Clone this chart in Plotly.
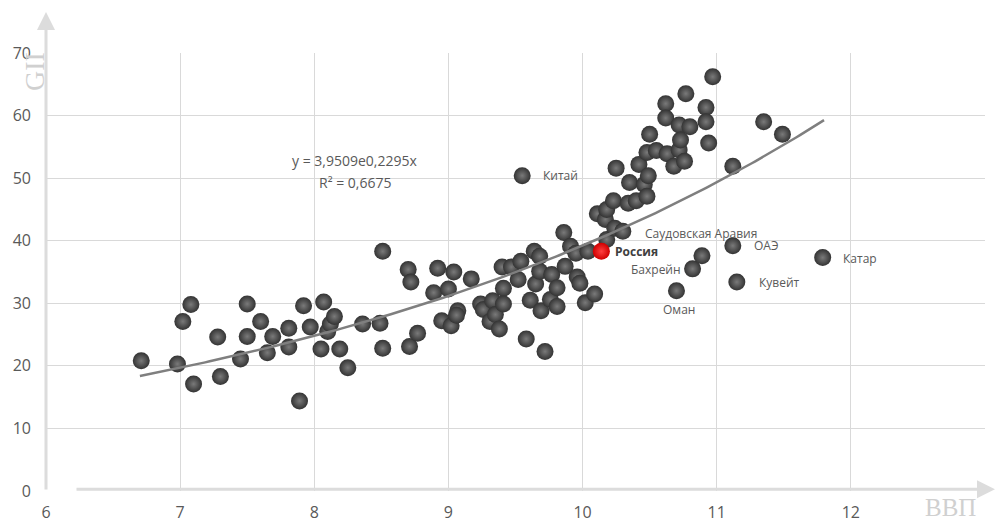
import numpy as np
import plotly.graph_objects as go

# --- Data (log GDP per capita vs GII) ---
gdp = [6.71, 6.98, 7.02, 7.08, 7.10, 7.28, 7.30, 7.45, 7.50, 7.50, 7.60, 7.65, 7.69, 7.81, 7.81,
       7.89, 7.92, 7.97, 8.05, 8.07, 8.10, 8.12, 8.15, 8.19, 8.25, 8.36, 8.49, 8.51, 8.51, 8.70,
       8.72, 8.71, 8.77, 8.89, 8.92, 8.95, 9.00, 9.02, 9.04, 9.07, 9.06, 9.17, 9.24, 9.26, 9.31,
       9.33, 9.35, 9.38, 9.40, 9.41, 9.41, 9.47, 9.52, 9.54, 9.55, 9.58, 9.61, 9.64, 9.65, 9.68,
       9.68, 9.69, 9.72, 9.76, 9.77, 9.81, 9.81, 9.86, 9.87, 9.91, 9.95, 9.96, 9.98, 10.02, 10.04,
       10.09, 10.11, 10.17, 10.18, 10.18, 10.24, 10.30, 10.23, 10.25, 10.34, 10.35, 10.40, 10.42,
       10.46, 10.48, 10.49, 10.48, 10.50, 10.55, 10.62, 10.62, 10.63, 10.68, 10.70, 10.72, 10.72,
       10.73, 10.76, 10.77, 10.80, 10.82, 10.89, 10.92, 10.92, 10.94, 10.97, 11.12, 11.12, 11.15,
       11.35, 11.49, 11.79]
gii = [20.8, 20.3, 27.1, 29.8, 17.1, 24.6, 18.3, 21.1, 24.7, 29.9, 27.1, 22.1, 24.7, 26.0, 23.0,
       14.4, 29.6, 26.2, 22.7, 30.2, 25.5, 26.7, 27.9, 22.7, 19.7, 26.7, 26.8, 22.8, 38.3, 35.4,
       33.4, 23.1, 25.2, 31.7, 35.6, 27.2, 32.3, 26.4, 35.0, 28.8, 28.1, 33.9, 29.9, 29.0, 27.1,
       30.4, 28.2, 25.9, 35.8, 32.4, 29.9, 35.8, 33.8, 36.7, 50.4, 24.3, 30.5, 38.3, 33.1, 37.5,
       35.1, 28.8, 22.3, 30.6, 34.6, 32.5, 29.5, 41.3, 35.9, 39.1, 38.0, 34.2, 33.2, 30.1, 38.3,
       31.5, 44.3, 43.4, 45.0, 40.2, 42.0, 41.5, 46.4, 51.6, 46.0, 49.3, 46.4, 52.2,
       49.0, 47.1, 50.4, 54.1, 57.0, 54.4, 61.9, 59.6, 53.9, 51.9, 32.0, 58.5, 54.5,
       56.1, 52.7, 63.5, 58.2, 35.5, 37.6, 61.3, 59.0, 55.6, 66.2, 51.9, 39.2, 33.4,
       59.0, 57.0, 37.3]

russia_gdp = [10.14]
russia_gii = [38.3]

label_names = ["Китай", "Саудовская Аравия", "ОАЭ", "Бахрейн", "Кувейт", "Оман", "Катар"]
label_x = [9.69, 10.45, 11.26, 10.75, 11.30, 10.72, 11.93]
label_y = [50.4, 41.1, 39.2, 35.4, 33.3, 29.0, 37.1]
label_anchor = ["left", "left", "left", "right", "left", "center", "left"]

trend_a = 3.9509
trend_b = 0.2295
trend_x_range = [6.7, 11.8]

x_ticks = [6, 7, 8, 9, 10, 11, 12, 13]
x_ticktext = ["6", "7", "8", "9", "10", "11", "12", ""]
y_ticks = [0, 10, 20, 30, 40, 50, 60, 70]

# --- Figure ---
fig = go.Figure()

fig.add_trace(go.Scatter(
    x=gdp, y=gii, mode="markers",
    marker=dict(size=17, color="#333333",
                gradient=dict(type="radial", color="#7a7a7a"),
                line=dict(width=0)),
    hoverinfo="skip", showlegend=False))

fig.add_trace(go.Scatter(
    x=russia_gdp, y=russia_gii, mode="markers",
    marker=dict(size=17, color="#d00000",
                gradient=dict(type="radial", color="#ff4040"),
                line=dict(width=0)),
    hoverinfo="skip", showlegend=False))

tx = np.linspace(trend_x_range[0], trend_x_range[1], 200)
ty = trend_a * np.exp(trend_b * tx)
fig.add_trace(go.Scatter(x=tx, y=ty, mode="lines",
                         line=dict(color="#7f7f7f", width=2.5),
                         hoverinfo="skip", showlegend=False))

font_main = "Open Sans, Noto Sans, sans-serif"

annotations = []
for name, lx, ly, anc in zip(label_names, label_x, label_y, label_anchor):
    annotations.append(dict(x=lx, y=ly, text=name, showarrow=False, xanchor=anc,
                            font=dict(family=font_main, size=12, color="#595959")))
annotations.append(dict(x=10.23, y=38.2, text="<b>Россия</b>", showarrow=False, xanchor="left",
                        font=dict(family=font_main, size=12, color="#404040")))
annotations.append(dict(x=8.30, y=52.8, text="y = 3,9509e0,2295x", showarrow=False,
                        font=dict(family=font_main, size=14, color="#595959")))
annotations.append(dict(x=8.30, y=49.3, text="R² = 0,6675", showarrow=False,
                        font=dict(family=font_main, size=14, color="#595959")))

# axis arrows
annotations.append(dict(xref="paper", yref="paper", x=0, y=(491 - 12) / 438, ax=0, ay=479,
                        axref="pixel", ayref="pixel", text="", showarrow=True,
                        arrowhead=2, arrowsize=1.2, arrowwidth=3, arrowcolor="#dcdcdc"))
annotations.append(dict(xref="paper", yref="paper", x=(995 - 46) / 939, y=0.004, ax=-920, ay=0,
                        axref="pixel", ayref="pixel", text="", showarrow=True,
                        arrowhead=2, arrowsize=1.2, arrowwidth=3, arrowcolor="#dcdcdc"))
# axis titles
annotations.append(dict(xref="paper", yref="paper", x=(34 - 46) / 939, y=(491 - 72) / 438,
                        xanchor="center", yanchor="middle",
                        text="GII", showarrow=False, textangle=-90,
                        font=dict(family="Liberation Serif, serif", size=28, color="#d0d0d0")))
annotations.append(dict(xref="paper", yref="paper", x=(950 - 46) / 939, y=(491 - 507) / 438,
                        xanchor="center", yanchor="middle", borderpad=0,
                        text="ВВП", showarrow=False, bgcolor="white",
                        font=dict(family="Liberation Serif, serif", size=25, color="#d0d0d0")))

fig.update_layout(
    width=997, height=523,
    margin=dict(l=46, r=12, t=53, b=32, autoexpand=False),
    paper_bgcolor="white", plot_bgcolor="white",
    annotations=annotations,
    showlegend=False,
)
fig.update_xaxes(range=[6, 13], tickvals=x_ticks, ticktext=x_ticktext, automargin=False,
                 showgrid=True, gridcolor="#d9d9d9", gridwidth=1,
                 zeroline=False, showline=False, ticks="",
                 ticklabelstandoff=10,
                 tickfont=dict(family=font_main, size=16, color="#595959"))
fig.update_yaxes(range=[0, 70], tickvals=y_ticks, automargin=False,
                 showgrid=True, gridcolor="#d9d9d9", gridwidth=1,
                 zeroline=False, showline=False, ticks="",
                 ticklabelstandoff=14,
                 tickfont=dict(family=font_main, size=16, color="#595959"))

fig.write_html("out.html", config={"displayModeBar": False},
               post_script="document.body.style.margin='0';document.body.style.overflow='hidden';")
